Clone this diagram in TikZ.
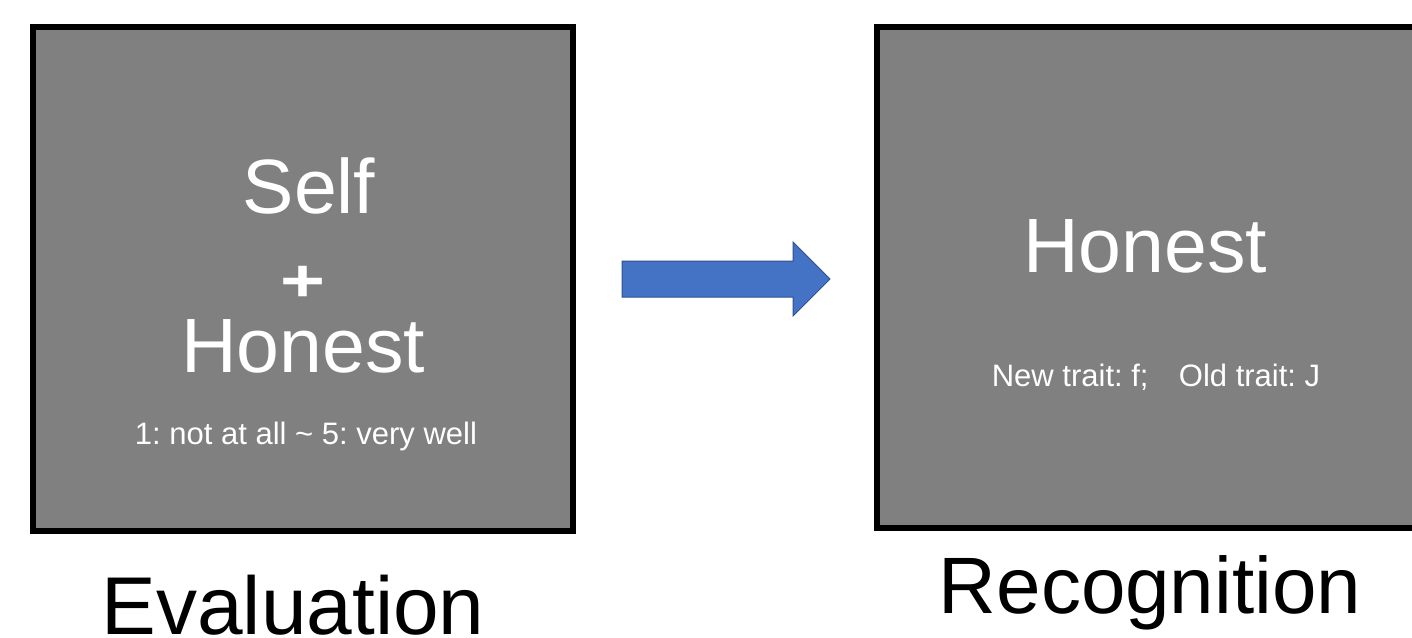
\documentclass[tikz,border=0pt]{standalone}
\usepackage{fontspec}
\setmainfont{Liberation Sans}
\frenchspacing
\definecolor{boxgray}{RGB}{128,128,128}
\definecolor{arrowblue}{RGB}{68,114,196}
\definecolor{arrowedge}{RGB}{47,82,143}
\begin{document}
\begin{tikzpicture}[x=1pt,y=-1pt,
  screen/.style={draw=black,fill=boxgray,line width=6pt},
  bigtxt/.style={text=white,inner sep=0pt,anchor=base,font=\fontsize{77}{80}\selectfont},
  smalltxt/.style={text=white,inner sep=0pt,anchor=base,font=\fontsize{31}{34}\selectfont},
  caption/.style={text=black,inner sep=0pt,anchor=base}]
\useasboundingbox (0,0) rectangle (1412,637);
\fill[white] (0,0) rectangle (1412,637);
% left screen
\draw[screen] (32.5,27) rectangle (573,531);
\node[bigtxt] (self) at (309,213) {Self};
\node[text=white,inner sep=0pt,anchor=center,font=\fontsize{77}{80}\selectfont\bfseries] (plus) at (303,284) {\scalebox{1}[0.78]{+}};
\node[bigtxt] (hon1) at (303,372) {Honest};
\node[smalltxt] (scale) at (306,444) {1: not at all \textasciitilde{} 5: very well};
% arrow
\draw[fill=arrowblue,draw=arrowedge,line width=1pt]
  (622,261) -- (793,261) -- (793,242) -- (830,279) -- (793,316) -- (793,297) -- (622,297) -- cycle;
% right screen
\draw[screen] (877,27) rectangle (1430,528);
\node[bigtxt] (hon2) at (1145,272) {Honest};
\node[smalltxt] (keys) at (1156,386) {New trait: f;\hspace{0.7em} Old trait: J};
% captions
\node[caption,font=\fontsize{82}{86}\selectfont] (eval) at (293,634) {Evaluation};
\node[caption,font=\fontsize{80}{84}\selectfont] (recog) at (1150,613) {Recognition};
\end{tikzpicture}
\end{document}
